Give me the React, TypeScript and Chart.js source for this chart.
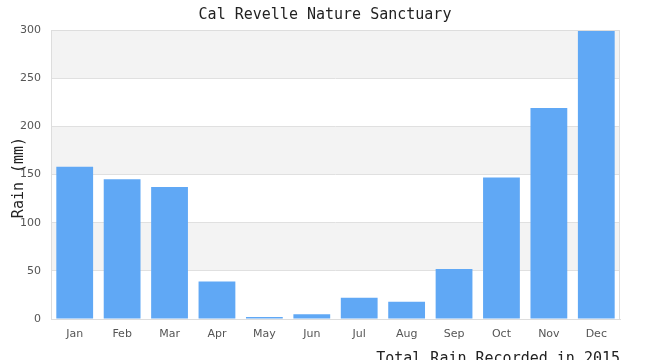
import React, { useEffect, useRef } from "react";
import { Chart, registerables } from "chart.js";

Chart.register(...registerables);

const months = ["Jan", "Feb", "Mar", "Apr", "May", "Jun", "Jul", "Aug", "Sep", "Oct", "Nov", "Dec"];
const rainMm = [158, 145, 137, 39, 2, 5, 22, 18, 52, 147, 219, 300];
const yTicks = [0, 50, 100, 150, 200, 250, 300];
const shadedBands = [[50, 100], [150, 200], [250, 300]];
const chartTitle = "Cal Revelle Nature Sanctuary";
const yTitle = "Rain (mm)";

const bandPlugin = {
  id: "bands",
  beforeDraw(chart: any) {
    const { ctx, chartArea, scales } = chart;
    const y = scales.y;
    ctx.save();
    ctx.fillStyle = "#f3f3f3";
    for (const [a, b] of shadedBands) {
      const y1 = y.getPixelForValue(b);
      const y2 = y.getPixelForValue(a);
      ctx.fillRect(chartArea.left, y1, chartArea.right - chartArea.left, y2 - y1);
    }
    ctx.restore();
  },
  afterDatasetsDraw(chart: any) {
    const { ctx, chartArea } = chart;
    ctx.save();
    ctx.strokeStyle = "#dddddd";
    ctx.lineWidth = 1;
    ctx.strokeRect(chartArea.left + 0.5, chartArea.top + 0.5, chartArea.right - chartArea.left - 1, chartArea.bottom - chartArea.top);
    ctx.fillStyle = "#222";
    ctx.font = "15px 'DejaVu Sans Mono'";
    ctx.textAlign = "center";
    ctx.textBaseline = "middle";
    ctx.fillText(chartTitle, chart.width / 2, 15);
    ctx.translate(19, (chartArea.top + chartArea.bottom) / 2 + 3);
    ctx.rotate(-Math.PI / 2);
    ctx.fillText(yTitle, 0, 0);
    ctx.restore();
  },
};

export default function App() {
  const ref = useRef<HTMLCanvasElement>(null);
  useEffect(() => {
    const chart = new Chart(ref.current!, {
      type: "bar",
      data: {
        labels: months,
        datasets: [
          {
            data: rainMm,
            backgroundColor: "rgb(96,168,245)",
            borderWidth: 0,
            barPercentage: 0.97,
            categoryPercentage: 0.8,
          },
        ],
      },
      plugins: [bandPlugin],
      options: {
        animation: false,
        responsive: false,
        layout: { padding: { left: 11, right: 30, top: 30, bottom: 0 } },
        plugins: {
          legend: { display: false },
          tooltip: { enabled: false },
          title: { display: false },
        },
        scales: {
          x: {
            grid: { display: false, drawTicks: false },
            border: { color: "#dddddd" },
            ticks: { color: "#555", font: { family: "'DejaVu Sans'", size: 11 }, padding: 9 },
            afterFit(scale: any) {
              scale.height = 49;
            },
            title: {
              display: true,
              text: "Total Rain Recorded in 2015",
              align: "end",
              color: "#222",
              font: { family: "'DejaVu Sans Mono'", size: 15 },
              padding: { top: 0, bottom: 0 },
            },
          },
          y: {
            min: 0,
            max: 300,
            afterBuildTicks(scale: any) {
              scale.ticks = yTicks.map((v) => ({ value: v }));
            },
            afterFit(scale: any) {
              scale.width = 40;
            },
            grid: { color: "#e0e0e0", drawTicks: false },
            border: { display: false },
            ticks: { color: "#555", font: { family: "'DejaVu Sans'", size: 11 }, padding: 10 },
            title: { display: false },
          },
        },
      },
    });
    return () => chart.destroy();
  }, []);
  return (
    <div style={{ position: "absolute", left: 0, top: 0 }}>
      <canvas ref={ref} width={650} height={368} />
    </div>
  );
}
